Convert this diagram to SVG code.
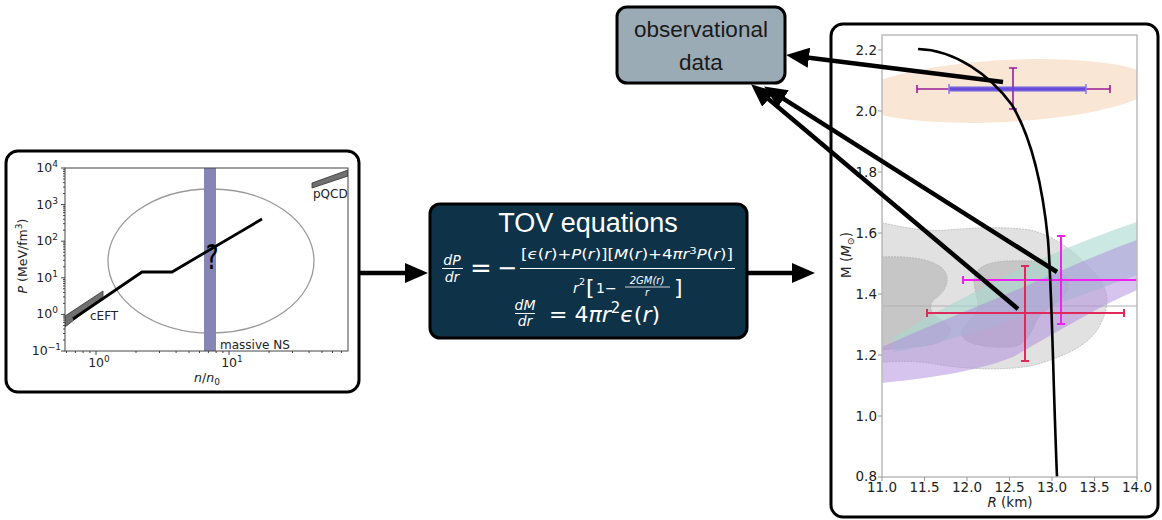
<svg xmlns="http://www.w3.org/2000/svg" width="1162" height="520" viewBox="0 0 1162 520">
<style>
.box{stroke:#000;stroke-width:3}
.mpl{font-family:"DejaVu Sans",sans-serif;fill:#222}
.ax{fill:none;stroke:#444;stroke-width:1}
.tick{stroke:#444;stroke-width:1;fill:none}
.rtick{stroke:#999;stroke-width:1;fill:none}
.math{font-family:"DejaVu Sans",sans-serif;fill:#fff}
.it{font-style:italic}
.conn{stroke:#000;stroke-width:4.5;fill:none}
</style>
<defs>
<marker id="ah" markerUnits="userSpaceOnUse" markerWidth="24" markerHeight="20" refX="10" refY="10" orient="auto">
<path d="M0,0 L23,10 L0,20 Z" fill="#000"/>
</marker>
<clipPath id="lclip"><rect x="65" y="168" width="283" height="183"/></clipPath>
<clipPath id="rclip"><rect x="882" y="35" width="255" height="442"/></clipPath>
</defs>

<!-- Left EoS plot node -->
<g id="eos-plot">
<rect class="box" x="6" y="151" width="353" height="241" rx="12" fill="#fff"/>
<g clip-path="url(#lclip)">
<ellipse cx="211" cy="261" rx="103" ry="72" fill="none" stroke="#9a9a9a" stroke-width="1.3"/>
<rect x="204" y="168" width="12" height="183" fill="#8585b6"/>
<polygon points="65,316 103,291 103,297 65,327" fill="#707070" stroke="#333" stroke-width="0.8"/>
<polygon points="312,183 348,170 348,176 312,188" fill="#707070" stroke="#333" stroke-width="0.8"/>
<polyline points="73,319 142,272 172,272 262,219" fill="none" stroke="#000" stroke-width="2.8"/>
</g>
<rect class="ax" x="65" y="168" width="283" height="183"/>
<path class="tick" d="M65,168h-4M65,204.6h-4M65,241.2h-4M65,277.8h-4M65,314.4h-4M65,351h-4M96,351v4M229,351v4"/>
<path class="tick" stroke-width="0.8" d="M65,340h-2M65,333.5h-2M65,329h-2M65,325.4h-2M65,322.5h-2M65,320.1h-2M65,317.9h-2M65,316.1h-2
M65,303.4h-2M65,296.9h-2M65,292.4h-2M65,288.8h-2M65,285.9h-2M65,283.5h-2M65,281.3h-2M65,279.5h-2
M65,266.8h-2M65,260.3h-2M65,255.8h-2M65,252.2h-2M65,249.3h-2M65,246.9h-2M65,244.7h-2M65,242.9h-2
M65,230.2h-2M65,223.7h-2M65,219.2h-2M65,215.6h-2M65,212.7h-2M65,210.3h-2M65,208.1h-2M65,206.3h-2
M65,193.6h-2M65,187.1h-2M65,182.6h-2M65,179h-2M65,176.1h-2M65,173.7h-2M65,171.5h-2M65,169.7h-2
M66.5,351v2M75.4,351v2M83.1,351v2M89.9,351v2M136,351v2M159.5,351v2M176.1,351v2M189,351v2M199.5,351v2M208.4,351v2M216.1,351v2M222.9,351v2M269,351v2M292.5,351v2M309.1,351v2M322,351v2M332.5,351v2M341.4,351v2"/>
<g class="mpl" font-size="12.5" text-anchor="end">
<text x="58" y="172">10<tspan dy="-5" font-size="9">4</tspan></text>
<text x="58" y="208.6">10<tspan dy="-5" font-size="9">3</tspan></text>
<text x="58" y="245.2">10<tspan dy="-5" font-size="9">2</tspan></text>
<text x="58" y="281.8">10<tspan dy="-5" font-size="9">1</tspan></text>
<text x="58" y="318.4">10<tspan dy="-5" font-size="9">0</tspan></text>
<text x="61" y="355">10<tspan dy="-5" font-size="9">−1</tspan></text>
</g>
<g class="mpl" font-size="12.5" text-anchor="middle">
<text x="99" y="367">10<tspan dy="-5" font-size="9">0</tspan></text>
<text x="232" y="367">10<tspan dy="-5" font-size="9">1</tspan></text>
<text x="207" y="382"><tspan class="it">n</tspan>/<tspan class="it">n</tspan><tspan dy="3" font-size="9">0</tspan></text>
<text transform="translate(27,256) rotate(-90)"><tspan class="it">P</tspan> (MeV/fm<tspan dy="-5" font-size="9">3</tspan><tspan dy="5">)</tspan></text>
</g>
<g class="mpl" font-size="12">
<text x="90" y="320">cEFT</text>
<text x="313" y="198">pQCD</text>
<text x="220" y="349">massive NS</text>
</g>
<text transform="translate(212,269) scale(0.75,1)" font-family="'DejaVu Sans',sans-serif" font-size="33" text-anchor="middle" fill="#000">?</text>
</g>

<!-- TOV equations node -->
<g id="tov-equations">
<rect class="box" x="430" y="204" width="317" height="134" rx="10" fill="#0e3248"/>
<text x="588" y="232" font-family="'Liberation Sans',Arial,sans-serif" font-size="27" fill="#fff" text-anchor="middle">TOV equations</text>
<g class="math" text-anchor="middle">
<text x="452" y="265" font-size="14" class="it">dP</text>
<line x1="442" y1="268.5" x2="463" y2="268.5" stroke="#fff" stroke-width="1"/>
<text x="452" y="282" font-size="14" class="it">dr</text>
<text x="481" y="277" font-size="26">=</text>
<text x="507" y="276" font-size="24">−</text>
<text x="627" y="259" font-size="13.5" textLength="212" lengthAdjust="spacingAndGlyphs">[<tspan class="it">ϵ</tspan>(<tspan class="it">r</tspan>)+<tspan class="it">P</tspan>(<tspan class="it">r</tspan>)][<tspan class="it">M</tspan>(<tspan class="it">r</tspan>)+4<tspan class="it">πr</tspan><tspan dy="-5" font-size="9.5">3</tspan><tspan dy="5" class="it">P</tspan>(<tspan class="it">r</tspan>)]</text>
<line x1="520" y1="268.5" x2="735" y2="268.5" stroke="#fff" stroke-width="1"/>
<text x="576" y="293" font-size="14" class="it">r</text>
<text x="582" y="285" font-size="9.5">2</text>
</g>
<g class="math">
<text x="586" y="295" font-size="22">[</text>
<text x="596" y="293" font-size="14">1−</text>
<text x="674" y="295" font-size="22">]</text>
</g>
<g class="math" text-anchor="middle">
<text x="647" y="284" font-size="10" class="it">2GM(r)</text>
<line x1="625" y1="287" x2="670" y2="287" stroke="#fff" stroke-width="0.8"/>
<text x="647" y="296" font-size="10" class="it">r</text>
<text x="525" y="310" font-size="14" class="it">dM</text>
<line x1="515" y1="313.5" x2="535" y2="313.5" stroke="#fff" stroke-width="1"/>
<text x="525" y="326" font-size="14" class="it">dr</text>
</g>
<text class="math" x="549" y="322" font-size="22">= 4<tspan class="it">πr</tspan><tspan dy="-9" font-size="15">2</tspan><tspan dy="9" class="it">ϵ</tspan>(<tspan class="it">r</tspan>)</text>
</g>

<!-- Observational data node -->
<g id="observational-data">
<rect class="box" x="617" y="7" width="168" height="76" rx="10" fill="#9aabb6"/>
<g font-family="'Liberation Sans',Arial,sans-serif" font-size="22.5" fill="#1a1a1a" text-anchor="middle">
<text x="701" y="37">observational</text>
<text x="701" y="70">data</text>
</g>
</g>

<!-- Right M-R plot node -->
<g id="mr-plot">
<rect class="box" x="831" y="24" width="327" height="493" rx="12" fill="#fff"/>
<g clip-path="url(#rclip)">
<ellipse cx="1005" cy="91" rx="150" ry="31" transform="rotate(-3 1005 91)" fill="#fae6d4"/>
<path d="M882,223 C900,226 920,232 947,230 C975,228 1000,226 1030,230 C1055,236 1072,250 1090,268 C1108,285 1112,302 1100,325 C1090,345 1065,357 1030,366 C1000,371 960,369 930,363 C905,360 890,362 882,362 Z" fill="#dcdcdc" fill-opacity="0.85" stroke="#c4c4c4" stroke-width="1" stroke-dasharray="2,1"/>
<path d="M882,257 C905,256 930,258 942,268 C952,278 946,291 936,298 C926,305 930,315 945,322 C955,330 950,340 930,345 L882,350 Z" fill="#c6c6c6" stroke="#b8b8b8" stroke-width="1" stroke-dasharray="2,1"/>
<path d="M975,275 C980,262 1000,260 1030,261 C1055,262 1068,275 1068,287 C1066,300 1050,305 1040,315 C1030,330 1030,345 1010,347 C990,348 965,345 962,335 C960,325 978,318 978,305 C978,295 972,285 975,275 Z" fill="#c6c6c6" stroke="#b8b8b8" stroke-width="1" stroke-dasharray="2,1"/>
<line x1="882" y1="306" x2="1137" y2="306" stroke="#b0b0b0" stroke-width="1"/>
<path d="M893,338 C920,320 950,305 980,289 C1020,267 1080,241 1137,222 L1137,275 C1060,303 960,342 893,352 Z" fill="#a9d9cf" fill-opacity="0.6"/>
<path d="M882,347 C920,330 960,313 1000,297 C1050,276 1100,253 1137,240 L1137,290 C1100,306 1060,330 1013,357 C980,370 940,377 882,383 Z" fill="#ad8ade" fill-opacity="0.5"/>
<g fill="none">
<path d="M917,89 H1110 M917,85 V93 M1110,85 V93 M1013,68 V109 M1009,68 H1017 M1009,109 H1017" stroke="#9a1f9a" stroke-width="1.6"/>
<path d="M949,89 H1086" stroke="#5a48e0" stroke-opacity="0.85" stroke-width="5"/>
<path d="M949,84 V94 M1086,84 V94" stroke="#8a7af0" stroke-width="1.5"/>
<path d="M963,280 H1137 M963,276 V284 M1061,236 V324 M1057,236 H1065 M1057,324 H1065" stroke="#f020f0" stroke-width="2"/>
<path d="M927,313 H1124 M927,309 V317 M1124,309 V317 M1025,266 V361 M1021,266 H1029 M1021,361 H1029" stroke="#dd2a5a" stroke-width="2"/>
</g>
<path d="M918,49 C955,50 990,75 1012,105 C1030,135 1042,180 1048,240 C1052,290 1053,380 1057,477" fill="none" stroke="#000" stroke-width="2.6"/>
</g>
<rect x="882" y="35" width="255" height="442" fill="none" stroke="#bbb" stroke-width="1.5"/>
<path class="rtick" d="M882,50h-4M882,111h-4M882,172h-4M882,233h-4M882,294h-4M882,355h-4M882,416h-4M882,477h-4M882,477v4M924.5,477v4M967,477v4M1009.5,477v4M1052,477v4M1094.5,477v4M1137,477v4"/>
<g class="mpl" font-size="13.5" text-anchor="end">
<text x="877" y="55">2.2</text>
<text x="877" y="116">2.0</text>
<text x="877" y="177">1.8</text>
<text x="877" y="238">1.6</text>
<text x="877" y="299">1.4</text>
<text x="877" y="360">1.2</text>
<text x="877" y="421">1.0</text>
<text x="877" y="481">0.8</text>
</g>
<g class="mpl" font-size="13.5" text-anchor="middle">
<text x="882" y="492">11.0</text>
<text x="924.5" y="492">11.5</text>
<text x="967" y="492">12.0</text>
<text x="1009.5" y="492">12.5</text>
<text x="1052" y="492">13.0</text>
<text x="1094.5" y="492">13.5</text>
<text x="1137" y="492">14.0</text>
<text x="1010" y="507"><tspan class="it">R</tspan> (km)</text>
<text transform="translate(851,255) rotate(-90)">M (<tspan class="it">M</tspan><tspan dy="3" font-size="9.5">⊙</tspan><tspan dy="-3">)</tspan></text>
</g>
</g>

<!-- Connectors -->
<g id="connectors">
<line class="conn" x1="359" y1="273" x2="415" y2="273" marker-end="url(#ah)"/>
<line class="conn" x1="747" y1="273" x2="802" y2="273" marker-end="url(#ah)"/>
<line class="conn" x1="1003" y1="82" x2="799" y2="56.5" marker-end="url(#ah)"/>
<line class="conn" x1="1057" y1="272" x2="775" y2="93.4" marker-end="url(#ah)"/>
<line class="conn" x1="1018" y1="309" x2="761" y2="92.7" marker-end="url(#ah)"/>
</g>
</svg>
